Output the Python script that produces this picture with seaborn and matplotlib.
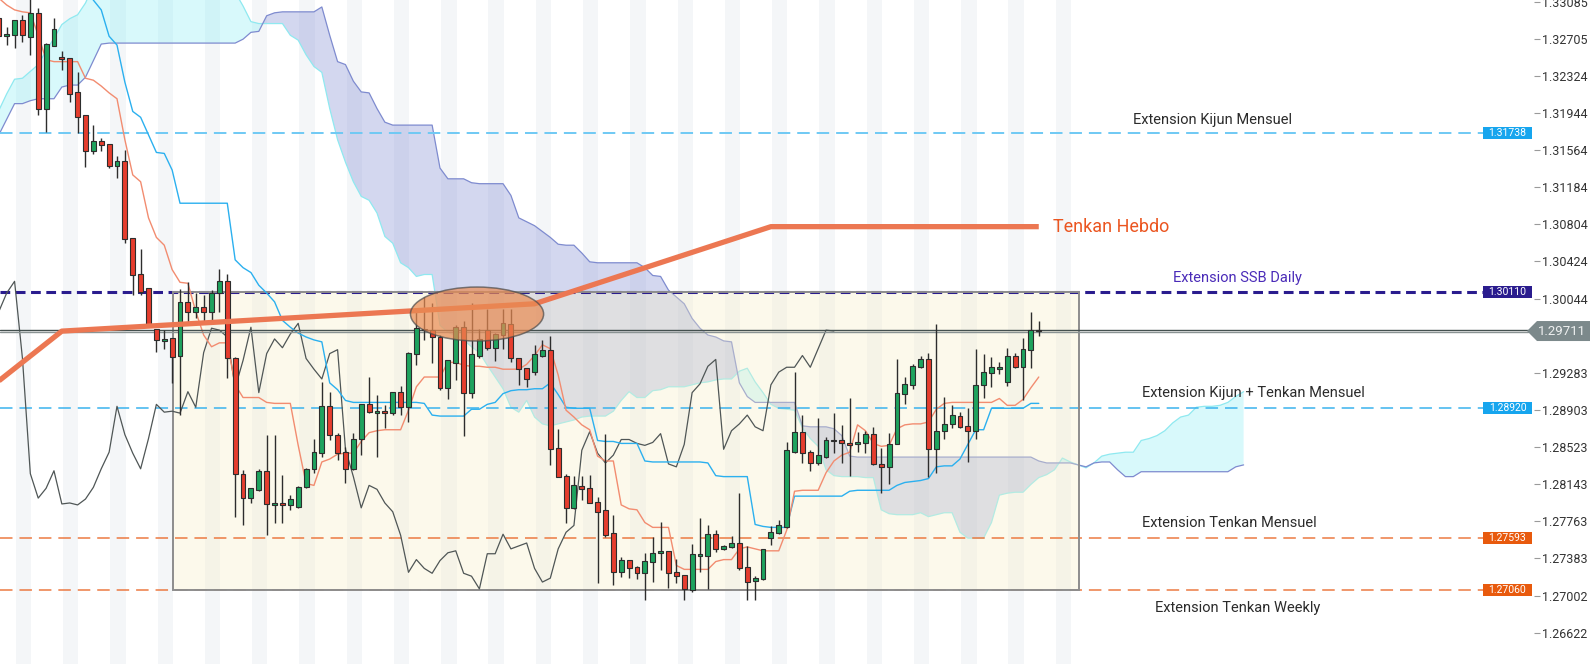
import numpy as np
import pandas as pd
import seaborn as sns
import matplotlib.pyplot as plt
import matplotlib.transforms as mtransforms
from matplotlib.patches import Rectangle, Ellipse, Polygon

# ---- bar data (4H candles, first bar index = -1) ----
first_bar = -1

opens = [
    1.3292, 1.3273, 1.3274, 1.3290, 1.3272, 1.3297, 1.3199, 1.3263, 1.3252, 1.3251,
    1.3216, 1.3192, 1.3155, 1.3166, 1.3163, 1.3140, 1.3145, 1.3066, 1.3029, 1.3015,
    1.2973, 1.2961, 1.2964, 1.2946, 1.3001, 1.2991, 1.2996, 1.2991, 1.3010, 1.3022,
    1.2943, 1.2825, 1.2800, 1.2808, 1.2828, 1.2793, 1.2795, 1.2793, 1.2791, 1.2811,
    1.2830, 1.2846, 1.2894, 1.2865, 1.2847, 1.2830, 1.2861, 1.2896, 1.2887, 1.2889,
    1.2887, 1.2909, 1.2893, 1.2948, 1.2973, 1.2972, 1.2965, 1.2913, 1.2938, 1.2975,
    1.2908, 1.2946, 1.2972, 1.2954, 1.2967, 1.2978, 1.2943, 1.2933, 1.2929, 1.2946,
    1.2952, 1.2851, 1.2823, 1.2790, 1.2812, 1.2810, 1.2796, 1.2788, 1.2764, 1.2724,
    1.2737, 1.2729, 1.2723, 1.2735, 1.2744, 1.2746, 1.2724, 1.2721, 1.2706, 1.2741,
    1.2741, 1.2763, 1.2748, 1.2750, 1.2754, 1.2729, 1.2715, 1.2717, 1.2759, 1.2764,
    1.2770, 1.2847, 1.2868, 1.2847, 1.2836, 1.2842, 1.2858, 1.2860, 1.2856, 1.2855,
    1.2856, 1.2866, 1.2835, 1.2832, 1.2855, 1.2907, 1.2916, 1.2934, 1.2942, 1.2850,
    1.2869, 1.2876, 1.2884, 1.2874, 1.2869, 1.2916, 1.2928, 1.2932, 1.2919, 1.2946,
    1.2934, 1.2952, 1.29718,
]
highs = [
    1.3295, 1.3282, 1.3290, 1.3295, 1.3315, 1.3302, 1.3266, 1.3292, 1.3258, 1.3251,
    1.3236, 1.3192, 1.3182, 1.3169, 1.3163, 1.3150, 1.3157, 1.3066, 1.3055, 1.3015,
    1.2973, 1.2972, 1.2964, 1.3014, 1.3021, 1.3010, 1.3008, 1.3013, 1.3035, 1.3030,
    1.2944, 1.2829, 1.2810, 1.2830, 1.2865, 1.2865, 1.2824, 1.2803, 1.2812, 1.2831,
    1.2861, 1.2919, 1.2909, 1.2867, 1.2852, 1.2867, 1.2896, 1.2924, 1.2906, 1.2895,
    1.2909, 1.2915, 1.2950, 1.2994, 1.3006, 1.3000, 1.2967, 1.2941, 1.2977, 1.2981,
    1.3000, 1.2973, 1.2994, 1.2969, 1.2994, 1.2994, 1.2943, 1.2933, 1.2957, 1.2962,
    1.2966, 1.2871, 1.2825, 1.2823, 1.2823, 1.2824, 1.2801, 1.2866, 1.2783, 1.2740,
    1.2737, 1.2730, 1.2744, 1.2760, 1.2776, 1.2746, 1.2738, 1.2721, 1.2753, 1.2780,
    1.2772, 1.2767, 1.2752, 1.2761, 1.2805, 1.2751, 1.2720, 1.2748, 1.2771, 1.2778,
    1.2857, 1.2929, 1.2885, 1.2849, 1.2882, 1.2863, 1.2887, 1.2875, 1.2902, 1.2868,
    1.2869, 1.2873, 1.2851, 1.2867, 1.2942, 1.2924, 1.2937, 1.2946, 1.2949, 1.2978,
    1.2904, 1.2895, 1.2888, 1.2892, 1.2953, 1.2948, 1.2945, 1.2939, 1.2954, 1.2949,
    1.2964, 1.2991, 1.2981,
]
lows = [
    1.3269, 1.3264, 1.3261, 1.3267, 1.3254, 1.3192, 1.3175, 1.3263, 1.3238, 1.3206,
    1.3174, 1.3139, 1.3152, 1.3155, 1.3138, 1.3128, 1.3061, 1.3008, 1.3008, 1.2975,
    1.2950, 1.2953, 1.2918, 1.2885, 1.2979, 1.2984, 1.2979, 1.2980, 1.2991, 1.2923,
    1.2781, 1.2772, 1.2795, 1.2807, 1.2762, 1.2774, 1.2774, 1.2788, 1.2790, 1.2810,
    1.2826, 1.2842, 1.2859, 1.2839, 1.2815, 1.2829, 1.2844, 1.2887, 1.2842, 1.2872,
    1.2885, 1.2885, 1.2878, 1.2936, 1.2962, 1.2938, 1.2911, 1.2901, 1.2921, 1.2864,
    1.2903, 1.2943, 1.2952, 1.2940, 1.2953, 1.2939, 1.2916, 1.2914, 1.2926, 1.2945,
    1.2834, 1.2822, 1.2775, 1.2789, 1.2798, 1.2795, 1.2713, 1.2760, 1.2711, 1.2719,
    1.2718, 1.2717, 1.2696, 1.2714, 1.2726, 1.2708, 1.2713, 1.2696, 1.2704, 1.2724,
    1.2707, 1.2745, 1.2747, 1.2749, 1.2726, 1.2696, 1.2696, 1.2716, 1.2752, 1.2763,
    1.2769, 1.2846, 1.2836, 1.2828, 1.2834, 1.2841, 1.2846, 1.2836, 1.2823, 1.2847,
    1.2846, 1.2834, 1.2805, 1.2814, 1.2855, 1.2896, 1.2912, 1.2933, 1.2822, 1.2826,
    1.2861, 1.2872, 1.2872, 1.2837, 1.2861, 1.2902, 1.2914, 1.2927, 1.2915, 1.2933,
    1.2900, 1.2933, 1.2966,
]
closes = [
    1.3273, 1.3275, 1.3290, 1.3274, 1.3297, 1.3199, 1.3265, 1.3280, 1.3250, 1.3214,
    1.3190, 1.3155, 1.3166, 1.3162, 1.3140, 1.3145, 1.3065, 1.3028, 1.3011, 1.2977,
    1.2962, 1.2963, 1.2944, 1.3001, 1.2991, 1.2996, 1.2991, 1.3010, 1.3022, 1.2943,
    1.2825, 1.2800, 1.2810, 1.2828, 1.2794, 1.2795, 1.2793, 1.2799, 1.2811, 1.2830,
    1.2847, 1.2894, 1.2865, 1.2846, 1.2830, 1.2861, 1.2896, 1.2888, 1.2889, 1.2887,
    1.2909, 1.2893, 1.2949, 1.2974, 1.2972, 1.2965, 1.2913, 1.2941, 1.2975, 1.2908,
    1.2948, 1.2963, 1.2954, 1.2968, 1.2979, 1.2943, 1.2932, 1.2922, 1.2948, 1.2952,
    1.2850, 1.2822, 1.2790, 1.2813, 1.2809, 1.2795, 1.2786, 1.2762, 1.2724, 1.2737,
    1.2728, 1.2723, 1.2736, 1.2744, 1.2746, 1.2723, 1.2720, 1.2707, 1.2743, 1.2743,
    1.2763, 1.2748, 1.2751, 1.2754, 1.2728, 1.2714, 1.2718, 1.2748, 1.2765, 1.2772,
    1.2849, 1.2868, 1.2846, 1.2836, 1.2844, 1.2860, 1.2860, 1.2856, 1.2854, 1.2857,
    1.2866, 1.2835, 1.2832, 1.2855, 1.2908, 1.2917, 1.2935, 1.2942, 1.2850, 1.2869,
    1.2876, 1.2885, 1.2873, 1.2869, 1.2916, 1.2929, 1.2934, 1.2934, 1.2946, 1.2934,
    1.2953, 1.2972, 1.29711,
]

# ---- ichimoku lines (same bars) ----
tenkan = [
    1.3312, 1.3305, 1.3300, 1.3298, 1.3297, 1.3274, 1.3249, 1.3247, 1.3247, 1.3247,
    1.3247, 1.3230, 1.3228, 1.3222, 1.3215, 1.3209, 1.3167, 1.3131, 1.3124, 1.3087,
    1.3067, 1.3059, 1.3034, 1.3021, 1.3020, 1.2991, 1.2967, 1.2955, 1.2959, 1.2959,
    1.2916, 1.2903, 1.2903, 1.2903, 1.2898, 1.2897, 1.2897, 1.2897, 1.2854, 1.2815,
    1.2813, 1.2837, 1.2840, 1.2845, 1.2846, 1.2846, 1.2858, 1.2867, 1.2869, 1.2870,
    1.2870, 1.2870, 1.2890, 1.2914, 1.2924, 1.2924, 1.2924, 1.2939, 1.2939, 1.2936,
    1.2935, 1.2935, 1.2934, 1.2934, 1.2932, 1.2932, 1.2932, 1.2937, 1.2946, 1.2957,
    1.2953, 1.2926, 1.2890, 1.2883, 1.2875, 1.2870, 1.2843, 1.2838, 1.2838, 1.2793,
    1.2789, 1.2788, 1.2775, 1.2770, 1.2770, 1.2770, 1.2731, 1.2727, 1.2727, 1.2727,
    1.2727, 1.2735, 1.2737, 1.2737, 1.2748, 1.2750, 1.2748, 1.2746, 1.2746, 1.2746,
    1.2767, 1.2807, 1.2808, 1.2808, 1.2808, 1.2826, 1.2838, 1.2844, 1.2847, 1.2875,
    1.2869, 1.2856, 1.2853, 1.2854, 1.2871, 1.2875, 1.2876, 1.2876, 1.2878, 1.2891,
    1.2897, 1.2898, 1.2898, 1.2898, 1.2898, 1.2898, 1.2898, 1.2902, 1.2895, 1.2895,
    1.2901, 1.2913, 1.2924,
]
kijun = [
    1.3356, 1.3356, 1.3356, 1.3356, 1.3356, 1.3356, 1.3356, 1.3356, 1.3356, 1.3351,
    1.3341, 1.3325, 1.3310, 1.3300, 1.3273, 1.3264, 1.3226, 1.3196, 1.3190, 1.3172,
    1.3154, 1.3153, 1.3136, 1.3102, 1.3102, 1.3102, 1.3102, 1.3102, 1.3102, 1.3102,
    1.3044, 1.3036, 1.3031, 1.3018, 1.3010, 1.3001, 1.2982, 1.2975, 1.2969, 1.2965,
    1.2962, 1.2960, 1.2918, 1.2911, 1.2900, 1.2898, 1.2898, 1.2898, 1.2898, 1.2898,
    1.2898, 1.2898, 1.2898, 1.2898, 1.2897, 1.2885, 1.2884, 1.2884, 1.2884, 1.2884,
    1.2891, 1.2891, 1.2896, 1.2898, 1.2907, 1.2910, 1.2911, 1.2911, 1.2912, 1.2912,
    1.2918, 1.2906, 1.2893, 1.2892, 1.2892, 1.2892, 1.2859, 1.2858, 1.2858, 1.2856,
    1.2856, 1.2856, 1.2838, 1.2837, 1.2837, 1.2837, 1.2837, 1.2837, 1.2837, 1.2837,
    1.2836, 1.2823, 1.2822, 1.2822, 1.2822, 1.2822, 1.2773, 1.2771, 1.2770, 1.2770,
    1.2770, 1.2802, 1.2802, 1.2802, 1.2802, 1.2802, 1.2802, 1.2802, 1.2807, 1.2808,
    1.2808, 1.2808, 1.2808, 1.2808, 1.2813, 1.2816, 1.2817, 1.2818, 1.2820, 1.2832,
    1.2833, 1.2833, 1.2840, 1.2855, 1.2870, 1.2870, 1.2892, 1.2892, 1.2892, 1.2892,
    1.2892, 1.2897, 1.2897,
]

# ---- cloud, projected 26 bars ahead (bars -1 .. 157) ----
span_a = [
    1.3197, 1.3214, 1.3229, 1.3230, 1.3237, 1.3244, 1.3258, 1.3271, 1.3285, 1.3291,
    1.3295, 1.3307, 1.3325, 1.3340, 1.3340, 1.3340, 1.3340, 1.3340, 1.3340, 1.3340,
    1.3340, 1.3340, 1.3340, 1.3340, 1.3340, 1.3340, 1.3340, 1.3340, 1.3340, 1.3330,
    1.3318, 1.3304, 1.3288, 1.3286, 1.3286, 1.3286, 1.3286, 1.3274, 1.3269, 1.3254,
    1.3242, 1.3236, 1.3199, 1.3167, 1.3144, 1.3124, 1.3109, 1.3105, 1.3092, 1.3068,
    1.3061, 1.3041, 1.3036, 1.3027, 1.3029, 1.3029, 1.2977, 1.2970, 1.2966, 1.2962,
    1.2955, 1.2949, 1.2936, 1.2924, 1.2912, 1.2893, 1.2888, 1.2900, 1.2883, 1.2876,
    1.2874, 1.2876, 1.2878, 1.2880, 1.2883, 1.2884, 1.2884, 1.2884, 1.2889, 1.2900,
    1.2909, 1.2903, 1.2903, 1.2910, 1.2911, 1.2914, 1.2914, 1.2914, 1.2916, 1.2918,
    1.2919, 1.2921, 1.2922, 1.2922, 1.2930, 1.2933, 1.2919, 1.2908, 1.2896, 1.2892,
    1.2891, 1.2890, 1.2872, 1.2861, 1.2853, 1.2829, 1.2823, 1.2822, 1.2822, 1.2822,
    1.2821, 1.2821, 1.2788, 1.2784, 1.2783, 1.2783, 1.2783, 1.2785, 1.2781, 1.2783,
    1.2785, 1.2785, 1.2765, 1.2759, 1.2759, 1.2759, 1.2775, 1.2803, 1.2805, 1.2806,
    1.2806, 1.2814, 1.2821, 1.2824, 1.2829, 1.2841, 1.2837, 1.2834, 1.2831, 1.2836,
    1.2843, 1.2845, 1.2846, 1.2847, 1.2847, 1.2859, 1.2861, 1.2864, 1.2869, 1.2877,
    1.2883, 1.2885, 1.2893, 1.2894, 1.2894, 1.2895, 1.2898, 1.2904, 1.2909,
]
span_b = [
    1.3172, 1.3188, 1.3204, 1.3204, 1.3207, 1.3209, 1.3209, 1.3209, 1.3221, 1.3223,
    1.3223, 1.3231, 1.3248, 1.3265, 1.3266, 1.3266, 1.3266, 1.3266, 1.3266, 1.3266,
    1.3266, 1.3266, 1.3266, 1.3266, 1.3266, 1.3266, 1.3266, 1.3266, 1.3266, 1.3266,
    1.3266, 1.3270, 1.3277, 1.3278, 1.3294, 1.3297, 1.3298, 1.3298, 1.3298, 1.3298,
    1.3298, 1.3303, 1.3274, 1.3247, 1.3244, 1.3227, 1.3216, 1.3215, 1.3199, 1.3185,
    1.3182, 1.3182, 1.3182, 1.3182, 1.3182, 1.3182, 1.3138, 1.3127, 1.3127, 1.3127,
    1.3123, 1.3122, 1.3122, 1.3122, 1.3122, 1.3110, 1.3087, 1.3083, 1.3079, 1.3073,
    1.3067, 1.3060, 1.3059, 1.3059, 1.3051, 1.3042, 1.3041, 1.3041, 1.3041, 1.3041,
    1.3041, 1.3041, 1.3036, 1.3028, 1.3027, 1.3013, 1.3006, 1.2999, 1.2984, 1.2974,
    1.2967, 1.2965, 1.2961, 1.2960, 1.2918, 1.2904, 1.2898, 1.2898, 1.2898, 1.2898,
    1.2898, 1.2898, 1.2874, 1.2873, 1.2873, 1.2873, 1.2871, 1.2864, 1.2843, 1.2842,
    1.2842, 1.2842, 1.2842, 1.2842, 1.2842, 1.2842, 1.2842, 1.2842, 1.2842, 1.2842,
    1.2842, 1.2842, 1.2842, 1.2842, 1.2842, 1.2842, 1.2842, 1.2842, 1.2842, 1.2842,
    1.2842, 1.2842, 1.2838, 1.2836, 1.2836, 1.2836, 1.2836, 1.2834, 1.2832, 1.2836,
    1.2837, 1.2837, 1.2829, 1.2822, 1.2822, 1.2827, 1.2827, 1.2827, 1.2827, 1.2827,
    1.2827, 1.2827, 1.2827, 1.2827, 1.2827, 1.2827, 1.2827, 1.2832, 1.2834,
]

# weekly tenkan (thick line), read at its corners
hebdo_bars = [-1, 7, 67, 97, 131]
hebdo_vals = [1.2920, 1.2971, 1.2999, 1.3078, 1.3078]

# horizontal levels
level_prices = [1.31738, 1.30110, 1.28920, 1.27593, 1.27060]
level_names = ["Extension Kijun Mensuel", "Extension SSB Daily",
               "Extension Kijun + Tenkan Mensuel", "Extension Tenkan Mensuel",
               "Extension Tenkan Weekly"]
last_price = 1.29711

# right axis tick labels (1.29663 sits under the last price tag)
tick_values = [1.33085, 1.32705, 1.32324, 1.31944, 1.31564, 1.31184, 1.30804,
               1.30424, 1.30044, 1.29283, 1.28903, 1.28523, 1.28143,
               1.27763, 1.27383, 1.27002, 1.26622]

# range box and marked zone
box_bars = (21.1, 136.1)
zone_center = (59.7, 1.29885)
zone_size = (16.9, 0.00553)


def main():
    sns.set_theme(style="white")
    plt.rcParams["font.family"] = ["Roboto", "DejaVu Sans"]
    plt.rcParams["lines.scale_dashes"] = False

    fig = plt.figure(figsize=(15.9, 6.64), dpi=100)
    ax_w = 1534 / 1590
    ax = fig.add_axes([0, 0, ax_w, 1])
    ax.set_facecolor("white")

    n = len(opens)
    bars = np.arange(first_bar, first_bar + n)
    o, h, l, c = map(np.array, (opens, highs, lows, closes))
    cloud_x = np.arange(first_bar, first_bar + len(span_a))
    sa, sb = np.array(span_a), np.array(span_b)

    # alternating day stripes
    for m in range(23):
        ax.axvspan(6 * m + 1.15, 6 * m + 3.1, color="#f4f6f8", lw=0, zorder=0)

    # cloud
    ax.fill_between(cloud_x, sa, sb, where=sa >= sb, interpolate=True,
                    color="#7eeef5", alpha=0.3, lw=0, zorder=1)
    ax.fill_between(cloud_x, sa, sb, where=sa < sb, interpolate=True,
                    color="#7f8ad2", alpha=0.34, lw=0, zorder=1)
    cloud = pd.DataFrame({"bar": cloud_x, "a": sa, "b": sb})
    sns.lineplot(data=cloud, x="bar", y="a", color="#8fe9f0", linewidth=0.9,
                 ax=ax, zorder=1.2)
    sns.lineplot(data=cloud, x="bar", y="b", color="#7e8bcf", linewidth=0.9,
                 ax=ax, zorder=1.2)

    # range box, laid over the cloud
    ax.add_patch(Rectangle((box_bars[0], level_prices[4]), box_bars[1] - box_bars[0],
                           level_prices[1] - level_prices[4], facecolor="#f7efc8",
                           alpha=0.35, lw=0, zorder=1.5))

    # levels
    level_styles = [
        dict(color="#6fc9f4", lw=1.4, dashes=(9, 5)),
        dict(color="#2a1c8e", lw=2.2, dashes=(7, 4)),
        dict(color="#3ab3ee", lw=1.1, dashes=(9, 5)),
        dict(color="#ec7a42", lw=1.1, dashes=(9, 5)),
        dict(color="#ec7a42", lw=1.1, dashes=(9, 5)),
    ]
    box_colors = ["#16a5ee", "#2a1c8e", "#16a5ee", "#e85a0d", "#e85a0d"]
    x_end = 1483 / 1534
    for price, st in zip(level_prices, level_styles):
        ax.axhline(price, xmin=0, xmax=x_end, color=st["color"], lw=st["lw"],
                   linestyle=(0, st["dashes"]), zorder=3)

    # box outline
    ax.add_patch(Rectangle((box_bars[0], level_prices[4]), box_bars[1] - box_bars[0],
                           level_prices[1] - level_prices[4], fill=False,
                           edgecolor="#8d8d8d", lw=1.4, zorder=3.2))

    # chikou, kijun, tenkan
    lag = 26
    chikou = pd.DataFrame({"bar": bars[:n - lag], "v": c[lag:]})
    sns.lineplot(data=chikou, x="bar", y="v", color="#4f5656", linewidth=0.9,
                 ax=ax, zorder=4)
    lines = pd.DataFrame({"bar": bars, "tenkan": tenkan, "kijun": kijun})
    sns.lineplot(data=lines, x="bar", y="kijun", color="#2bb0ef", linewidth=1.0,
                 ax=ax, zorder=4)
    sns.lineplot(data=lines, x="bar", y="tenkan", color="#f28c70", linewidth=1.0,
                 ax=ax, zorder=4)

    # last price line
    x_px = 1528 / 1534
    ax.axhline(last_price + 0.00012, xmax=x_px, color="#44504f", lw=1.0, zorder=4.5)
    ax.axhline(last_price - 0.00012, xmax=x_px, color="#8a9393", lw=1.0, zorder=4.5)

    # candles
    up = c >= o
    body_lo = np.minimum(o, c)
    body_h = np.maximum(np.abs(c - o), 0.00004)
    ax.vlines(bars, l, h, color="#2d2d2d", lw=1.0, zorder=5)
    ax.bar(bars, body_h, bottom=body_lo, width=0.62,
           color=np.where(up, "#1ea35e", "#e63d2e"), edgecolor="#2d2d2d",
           linewidth=0.8, zorder=5.5)

    # weekly tenkan
    hebdo = pd.DataFrame({"bar": hebdo_bars, "v": hebdo_vals})
    sns.lineplot(data=hebdo, x="bar", y="v", color="#ec7752", linewidth=3.8,
                 ax=ax, zorder=6, solid_capstyle="butt")
    ax.text(132.8, hebdo_vals[-1], "Tenkan Hebdo", color="#eb5520", fontsize=13,
            ha="left", va="center", zorder=8)

    ax.add_patch(Ellipse(zone_center, zone_size[0], zone_size[1],
                         facecolor="#e98b52", alpha=0.7, edgecolor="#4a4a4a",
                         lw=1.1, zorder=7))

    # level names
    name_pos = [(153.0, 13), (156.2, 14), (158.3, 15), (155.2, 15), (156.2, -18)]
    name_colors = ["#2b2b2b", "#4a2bb8", "#2b2b2b", "#2b2b2b", "#2b2b2b"]
    for price, name, (bx, dy), col in zip(level_prices, level_names, name_pos, name_colors):
        ax.annotate(name, (bx, price), xytext=(0, dy), textcoords="offset pixels",
                    ha="center", va="center", fontsize=10.5, color=col, zorder=8)

    # value boxes on the right
    tr = mtransforms.blended_transform_factory(ax.transAxes, ax.transData)
    bh = 12 / 9764
    for price, col in zip(level_prices, box_colors):
        ax.add_patch(Rectangle((x_end, price - bh / 2), 49 / 1534, bh, facecolor=col,
                               edgecolor="none", transform=tr, clip_on=False, zorder=9))
        ax.text(1507.5 / 1534, price, f"{price:.5f}", transform=tr, color="white",
                fontsize=7.5, ha="center", va="center", zorder=10)

    # last price tag
    trf = mtransforms.blended_transform_factory(fig.transFigure, ax.transData)
    hh = 10 / 9764
    tag = Polygon([(1527 / 1590, last_price), (1537 / 1590, last_price + hh),
                   (1.0, last_price + hh), (1.0, last_price - hh),
                   (1537 / 1590, last_price - hh)], closed=True,
                  facecolor="#7c898b", edgecolor="none", transform=trf,
                  clip_on=False, zorder=11)
    ax.add_patch(tag)
    ax.text(1562 / 1590, last_price, f"{last_price:.5f}", transform=trf,
            color="#eef0f0", fontsize=9.5, ha="center", va="center",
            clip_on=False, zorder=12)

    # axes
    ax.set_xlim(-0.85, 193.86)
    ax.set_ylim(1.263008, 1.331013)
    ax.yaxis.tick_right()
    ax.set_yticks(tick_values)
    ax.set_yticklabels([f"{v:.5f}" for v in tick_values])
    ax.tick_params(axis="y", right=True, length=4, width=0.8, color="#9a9a9a",
                   labelsize=9, labelcolor="#333333", pad=2)
    ax.set_xticks([])
    ax.set_xlabel("")
    ax.set_ylabel("")
    for s in ax.spines.values():
        s.set_visible(False)

    fig.savefig("out.png", dpi=100)


if __name__ == "__main__":
    main()
